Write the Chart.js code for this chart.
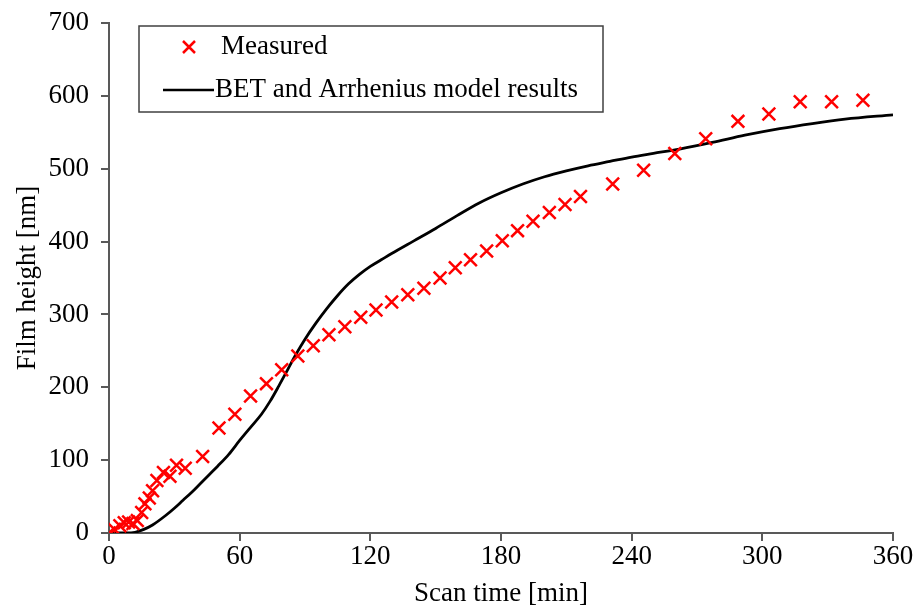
<!DOCTYPE html>
<html>
<head>
<meta charset="utf-8">
<script src="https://cdn.jsdelivr.net/npm/chart.js@4.4.1/dist/chart.umd.min.js"></script>
<style>
    html, body { margin: 0; padding: 0; background: #fff; }
    #chart { display: block; }
</style>
</head>
<body>
<canvas id="chart" width="922" height="606"></canvas>
<script>
// Dados medidos (tempo em min, altura em nm)
const measuredTime = [0, 2.5, 5, 7, 9, 11, 13, 15, 16.5, 18.5, 20, 22, 25, 28, 31, 35, 43,
    50.5, 57.8, 65, 72.3, 79.3, 86.7, 93.8, 101, 108.3, 115.6, 122.6, 129.8, 137.2, 144.6,
    152, 159, 166, 173.4, 180.6, 187.6, 194.7, 202.2, 209.4, 216.5, 231.3, 245.5, 259.8,
    274, 288.8, 303, 317.4, 331.8, 346.2];
const measuredHeight = [0, 5, 10, 14, 15, 13, 17, 28, 40, 48, 58, 72, 83, 78, 93, 89, 105,
    144, 163, 188, 205, 224, 243, 257, 272, 283, 296, 306, 317, 327, 336,
    350, 364, 375, 387, 401, 415, 428, 440, 451, 462, 479, 498, 521,
    541, 565, 575, 592, 592, 594];

// Resultado do modelo BET + Arrhenius
const modelTime = [0, 8, 12, 16, 20, 26, 30, 34, 38, 42, 46, 50, 55, 60, 65, 70, 74, 78, 82,
    86, 90, 95, 100, 105, 110, 115, 120, 125, 130, 140, 150, 160, 170, 180, 190, 200, 210, 220,
    230, 240, 250, 262, 277, 292, 308, 323, 338, 360];
const modelHeight = [0, 0, 1, 5, 11, 24, 34, 45, 56, 68, 80, 92, 108, 127, 145, 163, 181, 202, 224,
    246, 266, 288, 308, 326, 342, 355, 366, 375, 384, 401, 418, 436, 453, 467, 479, 489, 497, 504,
    510, 516, 521, 527, 536, 546, 555, 562, 568, 574];

const xTicks = [0, 60, 120, 180, 240, 300, 360];
const yTicks = [0, 100, 200, 300, 400, 500, 600, 700];

const serif = '"Liberation Serif", "Times New Roman", serif';
const fontSize = 27;
const axisColor = '#595959';

// Legenda desenhada à mão (caixa dentro da área do gráfico)
const boxLegend = {
    id: 'boxLegend',
    afterDraw(chart) {
        const ctx = chart.ctx;
        const ds = chart.data.datasets;
        ctx.save();
        ctx.strokeStyle = '#404040';
        ctx.lineWidth = 1.5;
        ctx.strokeRect(139, 26, 464, 86);

        // marcador "x"
        ctx.strokeStyle = '#ff0000';
        ctx.lineWidth = 2.5;
        const cx = 189, cy = 47, r = 6;
        ctx.beginPath();
        ctx.moveTo(cx - r, cy - r); ctx.lineTo(cx + r, cy + r);
        ctx.moveTo(cx + r, cy - r); ctx.lineTo(cx - r, cy + r);
        ctx.stroke();

        // linha do modelo
        ctx.strokeStyle = '#000';
        ctx.lineWidth = 2.5;
        ctx.beginPath();
        ctx.moveTo(163, 90); ctx.lineTo(214, 90);
        ctx.stroke();

        ctx.fillStyle = '#000';
        ctx.font = fontSize + 'px ' + serif;
        ctx.textBaseline = 'middle';
        ctx.fillText(ds[0].label, 221, 47);
        ctx.fillText(ds[1].label, 215, 90);
        ctx.restore();
    }
};

new Chart(document.getElementById('chart'), {
    type: 'scatter',
    data: {
        datasets: [{
            label: 'Measured',
            data: measuredTime.map((t, i) => ({ x: t, y: measuredHeight[i] })),
            pointStyle: 'crossRot',
            pointRadius: 9,
            pointBorderWidth: 2.5,
            borderColor: '#ff0000',
            backgroundColor: '#ff0000',
            showLine: false,
            order: 1
        }, {
            label: 'BET and Arrhenius model results',
            data: modelTime.map((t, i) => ({ x: t, y: modelHeight[i] })),
            showLine: true,
            borderColor: '#000',
            borderWidth: 2.8,
            pointRadius: 0,
            cubicInterpolationMode: 'monotone',
            order: 2
        }]
    },
    options: {
        responsive: false,
        animation: false,
        layout: { padding: { top: 23, right: 29, left: 0, bottom: 0 } },
        plugins: {
            legend: { display: false },
            tooltip: { enabled: false }
        },
        scales: {
            x: {
                type: 'linear',
                min: 0,
                max: 360,
                afterBuildTicks: (axis) => { axis.ticks = xTicks.map(v => ({ value: v })); },
                afterFit: (axis) => { axis.height = 73; },
                border: { display: true, color: axisColor, width: 2 },
                grid: { display: true, drawOnChartArea: false, drawTicks: true, tickLength: 8, color: axisColor, lineWidth: 2 },
                ticks: { color: '#000', font: { family: serif, size: fontSize }, padding: 0, maxRotation: 0 },
                title: {
                    display: true,
                    text: 'Scan time [min]',
                    color: '#000',
                    font: { family: serif, size: fontSize, lineHeight: 0.9 },
                    padding: { top: 0, bottom: 0 }
                }
            },
            y: {
                type: 'linear',
                min: 0,
                max: 700,
                afterBuildTicks: (axis) => { axis.ticks = yTicks.map(v => ({ value: v })); },
                afterFit: (axis) => {
                    axis.width = 109;
                    axis.paddingTop = 0;
                    axis.paddingBottom = 0;
                },
                border: { display: true, color: axisColor, width: 2 },
                grid: { display: true, drawOnChartArea: false, drawTicks: true, tickLength: 8, color: axisColor, lineWidth: 2 },
                ticks: { color: '#000', font: { family: serif, size: fontSize }, padding: 12 },
                title: {
                    display: true,
                    text: 'Film height [nm]',
                    color: '#000',
                    font: { family: serif, size: fontSize },
                    padding: { top: 12, bottom: 0 }
                }
            }
        }
    },
    plugins: [boxLegend]
});
</script>
</body>
</html>
